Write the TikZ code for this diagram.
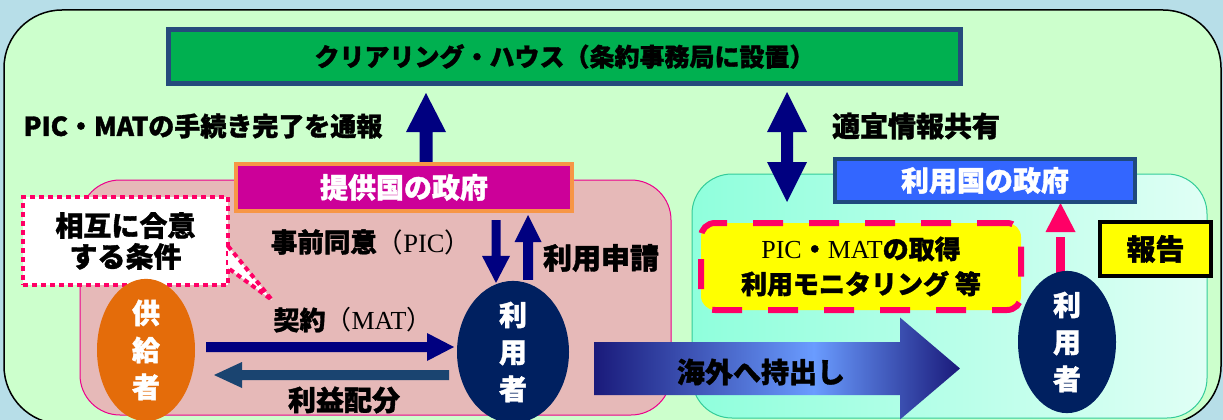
\documentclass[tikz,border=0pt]{standalone}
\usepackage{fontspec}
\setmainfont{Noto Sans CJK JP}[BoldFeatures={FakeBold=1.3}]
\newfontfamily\tms{Liberation Serif}
\usetikzlibrary{calc,shapes.geometric}
\definecolor{bgblue}{HTML}{B7DEE8}
\definecolor{outg}{HTML}{CCFFCC}
\definecolor{pinkreg}{HTML}{E6B9B8}
\definecolor{teala}{HTML}{8FFFDC}
\definecolor{tealz}{HTML}{E0FFF5}
\definecolor{tealb}{HTML}{33CC99}
\definecolor{chg}{HTML}{00B050}
\definecolor{chb}{HTML}{254A7C}
\definecolor{govf}{HTML}{CC0099}
\definecolor{govb}{HTML}{F79646}
\definecolor{ugf}{HTML}{3366FF}
\definecolor{ugb}{HTML}{1F497D}
\definecolor{supc}{HTML}{E46C0A}
\definecolor{userc}{HTML}{002060}
\definecolor{navyc}{HTML}{000080}
\definecolor{retc}{HTML}{1A4470}
\definecolor{pk}{HTML}{FF0066}
\definecolor{yl}{HTML}{FFFF00}
\definecolor{bad}{HTML}{1A1A7A}
\definecolor{bal}{HTML}{6A9CFF}
\pgfdeclarehorizontalshading{bigarr}{100bp}{color(0bp)=(bad); color(25bp)=(bad); color(55bp)=(bal); color(75bp)=(bad); color(100bp)=(bad)}
\pgfdeclarelayer{back}
\pgfdeclarelayer{mid}
\pgfsetlayers{back,mid,main}
\newcommand\fsz[1]{\fontsize{#1}{#1}\selectfont\bfseries}
% block arrow: style, start, end, half shaft, half head, head length
\newcommand\barrow[6]{%
  \path (#2) coordinate (ba-s) (#3) coordinate (ba-e) ($(ba-e)!#6!(ba-s)$) coordinate (ba-h);
  \path[#1] ($(ba-s)!#4!90:(ba-e)$) -- ($(ba-h)!#4!90:(ba-e)$) -- ($(ba-h)!#5!90:(ba-e)$)
    -- (ba-e) -- ($(ba-h)!#5!-90:(ba-e)$) -- ($(ba-h)!#4!-90:(ba-e)$) -- ($(ba-s)!#4!-90:(ba-e)$) -- cycle;}
\tikzset{
  every node/.style={inner sep=0pt, outer sep=0pt},
  lbl/.style={text=black, align=center},
  wlbl/.style={text=white, align=center},
  ell/.style={ellipse, draw=none, wlbl, font=\fontsize{28}{37}\selectfont\bfseries},
  dotb/.style={draw=pk, line width=4.5pt, dash pattern=on 5pt off 4pt},
}
\begin{document}
\begin{tikzpicture}[x=1pt,y=-1pt]
\useasboundingbox (0,0) rectangle (1223,420);
\clip (0,0) rectangle (1223,420);
\begin{pgfonlayer}{back}
\fill[bgblue] (0,0) rectangle (1223,420);
\draw[black, line width=1.5pt, fill=outg, rounded corners=58pt] (4,10) rectangle (1221,424);
\draw[magenta, line width=1pt, fill=pinkreg, rounded corners=40pt] (80,180) rectangle (671,415);
\draw[tealb, line width=1pt, left color=teala, right color=tealz, rounded corners=40pt] (692,174) rectangle (1207,418);
\end{pgfonlayer}

% boxes
\node[rectangle, draw=chb, fill=chg, line width=5pt, minimum width=792pt, minimum height=54pt, lbl, font=\fsz{25}] (ch) at (564.5,56.5) {クリアリング・ハウス（条約事務局に設置）};
\node[rectangle, draw=govb, fill=govf, line width=4pt, minimum width=336pt, minimum height=47pt, wlbl, font=\fsz{28}] (gov) at (404,187.5) {提供国の政府};
\node[rectangle, draw=ugb, fill=ugf, line width=4pt, minimum width=300pt, minimum height=43pt, wlbl, font=\fsz{28}] (ugov) at (985,180.5) {利用国の政府};
\node[rectangle, fill=white, dotb, minimum width=205pt, minimum height=88pt, lbl, font=\fontsize{28}{31}\selectfont\bfseries] (cond) at (125.5,241) {相互に合意\\する条件};
\node[rectangle, fill=yl, draw=pk, line width=6pt, dash pattern=on 30pt off 26pt, rounded corners=14pt, minimum width=320pt, minimum height=87pt, lbl, font=\fontsize{26}{35}\selectfont\bfseries] (mon) at (861,266.5) {{\mdseries\tms PIC}・{\mdseries\tms MAT}の取得\\利用モニタリング 等};
\node[rectangle, fill=yl, draw=black, line width=4pt, minimum width=111pt, minimum height=54pt, lbl, font=\fsz{29}] (rep) at (1155.5,249) {報告};

% callout pointer
\coordinate (cpa) at ($(cond.east)+(0,5)$);
\coordinate (cpb) at ($(cond.east)+(0,27)$);
\coordinate (cpt) at ($(cond.east)+(44,59)$);
\fill[white] (cpa) -- (cpt) -- (cpb) -- cycle;
\draw[dotb, line width=4pt] (cpa) -- (cpt) -- (cpb);

% ellipses
\node[ell, fill=supc, minimum width=98pt, minimum height=124pt] (sup) at (146,350) {供\\給\\者};
\node[ell, fill=userc, minimum width=112pt, minimum height=128pt] (u1) at (513,352) {利\\用\\者};
\node[ell, fill=userc, minimum width=98pt, minimum height=130pt] (u2) at (1067,342) {利\\用\\者};

% arrows
\begin{pgfonlayer}{mid}
\barrow{fill=navyc}{$(gov.north)+(22,0)$}{$(gov.north)+(22,-71)$}{6.5pt}{20pt}{39pt}
\coordinate (dmid) at ($(ch.south)+(222.5,63.5)$);
\barrow{fill=navyc}{dmid}{$(ch.south)+(222.5,8.5)$}{6pt}{20pt}{40pt}
\barrow{fill=navyc}{dmid}{$(ch.south)+(222.5,118.5)$}{6pt}{20pt}{40pt}
\barrow{fill=navyc}{$(sup.east)+(11,-3)$}{$(u1.west)+(-3,-5)$}{5pt}{14pt}{27pt}
\barrow{fill=retc}{$(u1.west)+(-8,23)$}{$(sup.east)+(19,25)$}{5pt}{13pt}{28pt}
\barrow{fill=navyc}{$(gov.south)+(92,9)$}{$(u1.north)+(-17,2)$}{4.5pt}{14pt}{27pt}
\barrow{fill=navyc}{$(u1.north)+(15,-1)$}{$(gov.south)+(124,4)$}{5pt}{13.5pt}{27pt}
\barrow{shading=bigarr}{$(u1.east)+(25,16.5)$}{$(u2.west)+(-58,26.5)$}{26.5pt}{51pt}{60pt}
\coordinate (rtip) at ($(ugov.south)+(75.5,1)$);
\coordinate (rbase) at ($(rtip)+(0,29)$);
\draw[pk, line width=9pt, dash pattern=on 40pt off 11pt] ($(u2.north)+(-6.5,6)$) -- (rbase);
\barrow{fill=pk}{rbase}{rtip}{0pt}{15pt}{29pt}
\end{pgfonlayer}

% labels
\node[lbl, font=\fsz{26}] (tnot) at (203,126) {PIC・MATの手続き完了を通報};
\node[lbl, font=\fsz{28}] (tshare) at (916,126) {適宜情報共有};
\node[lbl, font=\fsz{26.5}] (tpic) at (371,242) {事前同意{\mdseries（{\tms PIC}）}};
\node[lbl, font=\fsz{29}] (tapp) at (601,258) {利用申請};
\node[lbl, font=\fsz{26}] (tmat) at (353,320) {契約{\mdseries（{\tms MAT}）}};
\node[lbl, font=\fsz{28}] (tben) at (344,400) {利益配分};
\node[lbl, font=\fsz{28}] (texp) at (761,372) {海外へ持出し};
\end{tikzpicture}
\end{document}
